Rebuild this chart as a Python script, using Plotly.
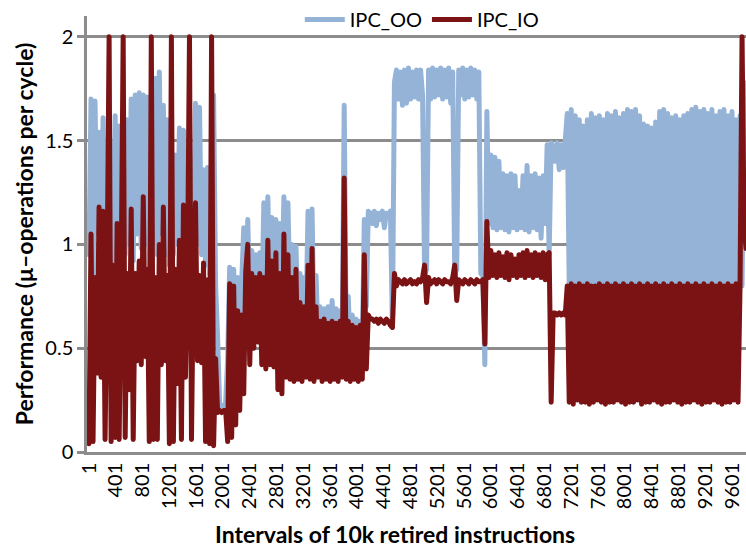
import plotly.graph_objects as go

# Interval index (10k retired instructions each) at which each IPC reading is taken
intervals = list(range(1, 9842, 30))

# Out-of-order core IPC
ipc_oo = [
    0.95, 1.70, 0.80, 1.69, 1.05, 1.54, 0.90, 1.61, 0.85, 1.50,
    0.95, 1.48, 0.90, 1.62, 1.00, 1.57, 0.90, 1.58, 0.95, 1.60,
    1.00, 1.70, 0.92, 1.72, 1.05, 1.73, 0.98, 1.72, 1.00, 1.71,
    0.90, 1.55, 1.00, 1.80, 0.95, 1.83, 1.05, 1.67, 0.95, 1.60,
    0.90, 1.46, 0.95, 1.43, 1.00, 1.56, 0.90, 1.55, 1.00, 1.45,
    0.95, 1.42, 1.05, 1.68, 1.00, 1.66, 0.95, 1.36, 0.90, 1.37,
    0.85, 1.30, 1.72,
    0.80, 0.55, 0.23, 0.22, 0.22, 0.24, 0.45,
    0.89, 0.55, 0.88, 0.60, 0.84, 0.55, 0.82, 1.08, 0.70, 1.12,
    0.75, 0.97, 0.70, 0.95, 0.72, 0.96, 0.70, 1.20, 0.75, 1.23,
    0.78, 1.13, 0.80, 1.12, 0.75, 1.10, 0.78, 1.23, 0.80, 1.20,
    0.75, 1.00, 0.70, 0.99, 0.65, 0.86, 0.60, 0.84, 0.65, 1.16,
    0.70, 1.17, 0.60, 0.85, 0.55, 0.70, 0.50, 0.69, 0.50, 0.70,
    0.50, 0.73, 0.52, 0.69, 0.50, 0.68, 0.55, 1.67, 0.55, 0.75,
    0.50, 0.66, 0.50, 0.64, 0.50, 0.63, 0.50, 1.12, 0.70, 1.16,
    1.15,
    1.10, 1.16, 1.09, 1.15, 1.12, 1.16, 1.08, 1.15, 1.14, 1.16, 0.60,
    1.78, 1.84, 1.70, 1.83, 1.67, 1.84, 1.68, 1.85, 1.70, 1.83,
    1.71, 1.84, 1.70, 1.84, 1.72, 0.86, 0.88, 1.84, 1.70, 1.85,
    1.71, 1.84, 1.72, 1.85, 1.70, 1.84, 1.71, 1.85, 1.68, 1.83,
    0.86, 0.88, 1.84, 1.72, 1.85, 1.70, 1.84, 1.71, 1.85, 1.72,
    1.84, 1.70, 1.83, 0.86, 0.85,
    0.42, 1.64, 1.10, 1.43, 1.08, 1.42, 1.07, 1.40, 1.08, 1.34,
    1.07, 1.33, 1.06, 1.34, 1.08, 1.33, 1.07, 1.26, 1.08, 1.33,
    1.07, 1.38, 1.06, 1.33, 1.08, 1.34, 1.07, 1.32, 1.03, 1.33,
    1.10, 1.48, 0.95, 1.49, 1.47, 1.40, 1.49, 1.36, 1.48, 1.37,
    1.50,
    1.63, 0.79, 1.65, 0.80, 1.62, 0.79, 1.60, 0.78, 1.57, 0.79,
    1.60, 0.80, 1.63, 0.79, 1.61, 0.78, 1.62, 0.79, 1.60, 0.80,
    1.63, 0.79, 1.62, 0.78, 1.64, 0.79, 1.61, 0.80, 1.63, 0.79,
    1.65, 0.78, 1.64, 0.79, 1.65, 0.80, 1.62, 0.79, 1.58, 0.78,
    1.57, 0.79, 1.56, 0.80, 1.59, 0.79, 1.64, 0.78, 1.65, 0.79,
    1.63, 0.80, 1.61, 0.79, 1.62, 0.78, 1.60, 0.79, 1.62, 0.80,
    1.63, 0.79, 1.65, 0.78, 1.66, 0.79, 1.64, 0.80, 1.65, 0.79,
    1.63, 0.78, 1.65, 0.79, 1.62, 0.80, 1.64, 0.79, 1.65, 0.78,
    1.62, 0.79, 1.64, 0.80, 1.60, 0.79, 1.62,
    0.80, 1.78, 1.68, 1.77,
]

# In-order core IPC
ipc_io = [
    0.04, 1.05, 0.05, 0.84, 0.38, 1.18, 0.36, 1.16, 0.06, 0.84,
    2.00, 0.05, 0.90, 0.07, 1.10, 0.06, 0.85, 2.00, 0.07, 0.86,
    0.30, 1.17, 0.06, 0.86, 0.44, 0.92, 0.42, 1.23, 0.46, 0.88,
    0.05, 2.00, 0.06, 0.84, 0.06, 1.00, 0.42, 1.18, 0.44, 0.85,
    0.04, 2.00, 0.05, 0.88, 0.33, 1.02, 0.06, 1.19, 0.36, 0.85,
    2.00, 0.06, 0.90, 1.20, 0.44, 0.85, 0.43, 0.91, 0.05, 0.83,
    0.04, 2.00, 0.03,
    0.45, 0.19, 0.20, 0.19, 0.20, 0.20, 0.05,
    0.81, 0.07, 0.80, 0.13, 0.68, 0.20, 0.66, 0.28, 0.87, 1.00,
    0.42, 0.86, 0.50, 0.84, 0.53, 0.86, 0.42, 0.84, 0.40, 1.02,
    0.42, 0.92, 0.41, 0.96, 0.30, 0.86, 0.28, 1.05, 0.36, 0.95,
    0.35, 0.84, 0.34, 0.88, 0.35, 0.72, 0.34, 0.70, 0.36, 0.90,
    0.35, 0.98, 0.34, 0.70, 0.36, 0.63, 0.34, 0.64, 0.35, 0.62,
    0.34, 0.63, 0.35, 0.62, 0.34, 0.63, 0.36, 1.32, 0.35, 0.63,
    0.34, 0.61, 0.35, 0.60, 0.34, 0.61, 0.35, 0.95, 0.40, 0.66,
    0.64,
    0.64, 0.63, 0.64, 0.62, 0.64, 0.63, 0.62, 0.64, 0.63, 0.61, 0.60,
    0.86, 0.80, 0.83, 0.82, 0.81, 0.83, 0.81, 0.82, 0.83, 0.81,
    0.82, 0.81, 0.83, 0.82, 0.84, 0.90, 0.72, 0.84, 0.81, 0.82,
    0.83, 0.81, 0.83, 0.82, 0.81, 0.83, 0.82, 0.82, 0.81, 0.84,
    0.90, 0.73, 0.83, 0.82, 0.81, 0.83, 0.82, 0.81, 0.83, 0.82,
    0.81, 0.83, 0.82, 0.82, 0.83,
    0.52, 1.11, 0.84, 0.97, 0.85, 0.95, 0.84, 0.96, 0.85, 0.94,
    0.84, 0.96, 0.83, 0.95, 0.85, 0.93, 0.84, 0.95, 0.85, 0.96,
    0.84, 0.97, 0.85, 0.95, 0.84, 0.96, 0.85, 0.95, 0.84, 0.96,
    0.83, 0.95, 0.96, 0.24, 0.67, 0.67, 0.66, 0.67, 0.66, 0.67,
    0.66,
    0.80, 0.24, 0.81, 0.23, 0.80, 0.25, 0.81, 0.24, 0.80, 0.24,
    0.81, 0.23, 0.80, 0.24, 0.80, 0.25, 0.81, 0.24, 0.80, 0.23,
    0.81, 0.24, 0.80, 0.24, 0.81, 0.25, 0.80, 0.24, 0.81, 0.23,
    0.80, 0.24, 0.81, 0.24, 0.80, 0.25, 0.81, 0.23, 0.80, 0.24,
    0.81, 0.24, 0.80, 0.25, 0.81, 0.24, 0.80, 0.23, 0.81, 0.24,
    0.80, 0.24, 0.81, 0.25, 0.80, 0.24, 0.81, 0.23, 0.80, 0.24,
    0.81, 0.24, 0.80, 0.25, 0.81, 0.24, 0.80, 0.23, 0.81, 0.24,
    0.80, 0.24, 0.81, 0.25, 0.80, 0.24, 0.81, 0.23, 0.80, 0.24,
    0.81, 0.24, 0.80, 0.25, 0.81, 0.24, 0.80,
    2.00, 1.08, 0.98, 1.05,
]

# Category axis labels every 400 intervals
x_tick_vals = [1, 401, 801, 1201, 1601, 2001, 2401, 2801, 3201, 3601, 4001,
               4401, 4801, 5201, 5601, 6001, 6401, 6801, 7201, 7601, 8001,
               8401, 8801, 9201, 9601]
x_tick_text = [str(v) for v in x_tick_vals]
y_tick_vals = [0, 0.5, 1, 1.5, 2]
y_tick_text = ["0", "0.5", "1", "1.5", "2"]

FONT = "Lato, 'Open Sans', sans-serif"
GRID = "#8c8c8c"
TICK_FONT = dict(family=FONT, size=20, color="#000000")
TITLE_FONT = dict(family=FONT, size=23, color="#000000", weight="bold")

fig = go.Figure()
fig.add_trace(go.Scatter(
    x=intervals, y=ipc_oo, mode="lines", name="IPC_OO",
    line=dict(color="#95B3D7", width=5, simplify=False),
))
fig.add_trace(go.Scatter(
    x=intervals, y=ipc_io, mode="lines", name="IPC_IO",
    line=dict(color="#7B1214", width=5, simplify=False),
))

fig.update_layout(
    width=746, height=550,
    margin=dict(l=87, r=0, t=9, b=98),
    paper_bgcolor="white", plot_bgcolor="white",
    font=dict(family=FONT, size=20, color="#000000"),
    showlegend=True,
    legend=dict(
        orientation="h", x=0.508, xanchor="center", y=0.993, yanchor="middle",
        bgcolor="rgba(0,0,0,0)", font=dict(family=FONT, size=20, color="#000000"),
        itemwidth=40, traceorder="normal",
    ),
    xaxis=dict(
        range=[-29, 9810], tickmode="array", tickvals=x_tick_vals, ticktext=x_tick_text,
        tickangle=-90, showgrid=False, zeroline=False, ticks="",
        showline=True, linecolor=GRID, linewidth=2.5,
        tickfont=TICK_FONT,
    ),
    yaxis=dict(
        range=[0, 2.1], tickmode="array", tickvals=y_tick_vals, ticktext=y_tick_text,
        showgrid=True, gridcolor=GRID, gridwidth=2.5, zeroline=False,
        showline=True, linecolor=GRID, linewidth=2.5,
        ticks="outside", ticklen=7, tickwidth=2.5, tickcolor=GRID,
        tickfont=TICK_FONT,
        title=dict(text="Performance (μ–operations per cycle)",
                   font=TITLE_FONT, standoff=6),
    ),
    annotations=[
        dict(text="Intervals of 10k retired instructions",
             xref="paper", yref="paper", x=0.467, y=-0.187,
             xanchor="center", yanchor="middle", showarrow=False,
             font=TITLE_FONT),
    ],
)

# Rounded joins and caps on the data lines
round_lines = """
var gd = document.getElementById('{plot_id}');
function roundLines() {
  gd.querySelectorAll('.scatterlayer .js-line').forEach(function (p) {
    p.style.strokeLinejoin = 'round';
    p.style.strokeLinecap = 'round';
  });
}
roundLines();
if (gd.on) { gd.on('plotly_afterplot', roundLines); }
setTimeout(roundLines, 50);
"""

fig.write_html("out.html", post_script=round_lines)
